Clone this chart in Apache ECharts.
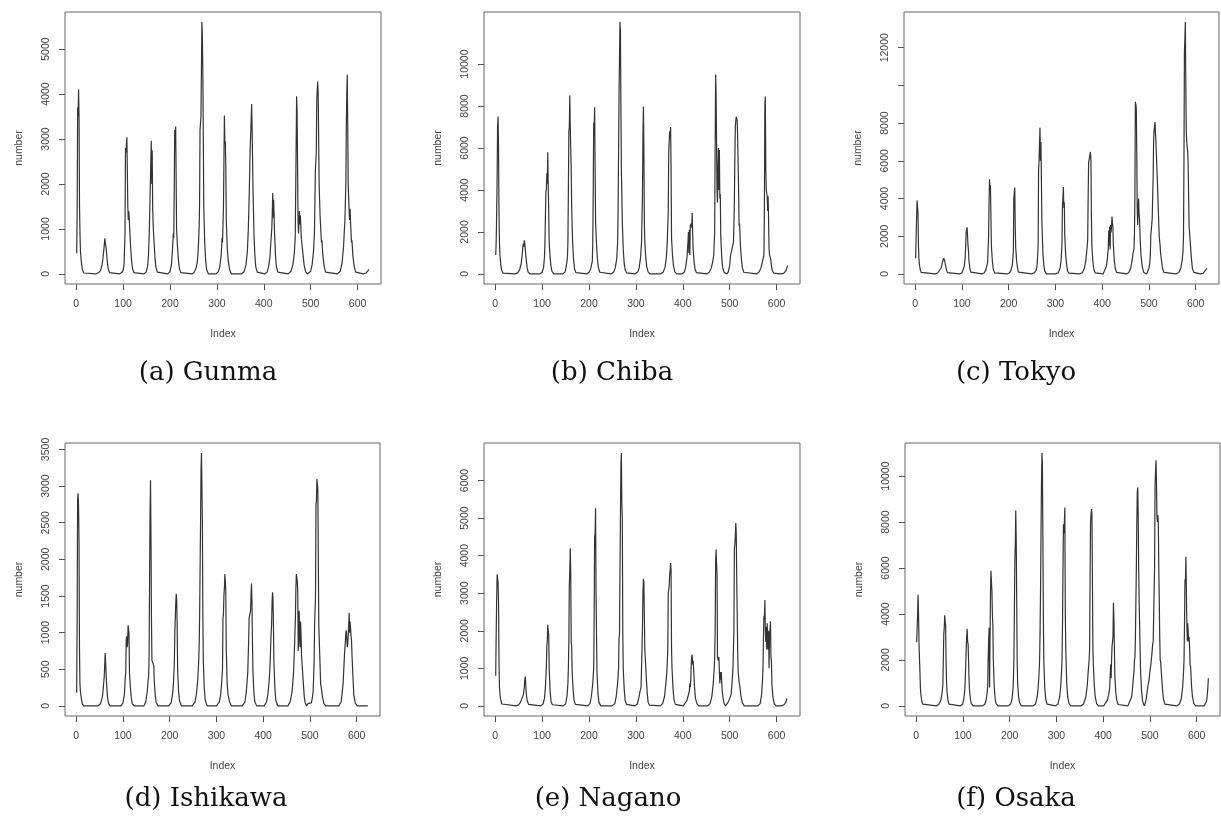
<!DOCTYPE html>
<html>
<head>
<meta charset="utf-8">
<script src="https://cdn.jsdelivr.net/npm/echarts@6/dist/echarts.min.js"></script>
<style>
html,body{margin:0;padding:0;background:#fff;}
#chart{width:1221px;height:817px;}
</style>
</head>
<body>
<div id="chart"></div>
<script>
// ---- data: [Index, number] pairs ----
const gunma = [[1,460],[2,1400],[3,3700],[4,3500],[5,4100],[6,3500],[7,1500],[8,900],[9,500],[11,250],[13,100],[16,20],[20,0],
[42,0],[48,30],[52,80],[55,200],[57,350],[59,550],[61,790],[62,700],[63,720],[64,550],[66,300],[68,120],[71,30],[75,0],
[92,0],[97,30],[100,80],[102,220],[104,900],[105,2800],[106,2700],[108,3040],[109,2300],[110,1500],[111,1200],[112,1400],[113,1250],[114,1000],[116,600],[118,300],[120,120],[123,30],[127,0],
[144,0],[149,40],[152,150],[154,400],[156,1000],[158,2000],[160,2960],[161,2000],[162,2750],[163,1500],[164,1100],[166,700],[168,350],[170,150],[173,40],[177,0],
[195,0],[200,50],[203,200],[205,500],[206,700],[207,900],[208,800],[209,1900],[210,3200],[211,3000],[212,3280],[213,2200],[214,1000],[216,600],[218,300],[220,120],[223,30],[227,0],
[247,0],[252,40],[256,150],[258,250],[260,500],[262,1000],[263,1500],[264,3200],[266,3500],[268,5600],[269,5300],[270,4500],[271,3000],[272,1500],[274,700],[276,300],[278,100],[282,0],
[298,0],[303,50],[306,150],[309,400],[311,800],[312,700],[314,1500],[316,3520],[317,2900],[318,2950],[319,2400],[320,1200],[322,600],[324,300],[327,100],[331,0],
[352,0],[358,50],[362,200],[365,500],[367,1000],[369,1800],[371,2800],[373,3400],[374,3780],[375,3300],[377,1900],[379,900],[381,400],[383,150],[386,40],[390,0],
[402,0],[407,40],[410,150],[413,350],[415,700],[417,1000],[418,1300],[419,1800],[420,1250],[421,1650],[423,900],[425,400],[427,150],[430,40],[434,0],
[452,0],[458,60],[462,200],[465,450],[467,800],[468,1800],[470,3950],[471,3600],[472,2400],[473,1200],[474,900],[476,1400],[477,1100],[478,1300],[480,800],[481,800],[483,500],[486,200],[489,50],[493,0],
[496,0],[500,60],[503,200],[506,500],[508,900],[510,2300],[512,2700],[513,3900],[515,4280],[516,4000],[518,2000],[520,1300],[521,1100],[523,700],[524,750],[526,400],[529,150],[532,40],[536,0],
[557,0],[563,60],[567,250],[570,600],[573,1200],[575,2000],[576,3300],[577,4000],[578,4430],[579,3300],[580,2000],[582,1400],[583,1200],[584,1450],[585,1150],[587,700],[588,750],[590,400],[593,150],[596,40],[600,0],
[612,0],[618,20],[622,70],[624,100]];

const chiba = [[1,900],[2,1500],[3,2800],[4,4500],[5,7000],[6,7500],[7,6100],[8,3000],[9,1500],[10,900],[12,400],[14,150],[17,40],[21,0],
[42,0],[48,50],[52,200],[55,450],[57,800],[59,1300],[60,1450],[61,1300],[62,1600],[63,1450],[64,1200],[66,700],[68,300],[70,100],[74,0],
[95,0],[100,80],[103,300],[105,800],[106,1500],[108,3900],[109,4000],[110,4800],[111,4300],[112,5800],[113,4300],[114,3000],[115,1500],[117,800],[119,350],[121,120],[125,0],
[144,0],[149,100],[151,300],[153,600],[154,800],[155,1500],[156,4000],[157,6800],[158,7000],[159,8500],[160,7000],[161,7000],[162,5000],[163,3200],[165,1500],[167,700],[169,250],[172,60],[176,0],
[195,0],[200,80],[203,200],[205,400],[207,600],[208,1500],[209,4000],[210,7200],[211,7000],[212,7940],[213,5000],[214,2500],[216,1400],[218,700],[220,300],[223,80],[227,0],
[247,0],[253,100],[256,300],[259,700],[261,1500],[262,3000],[264,8500],[266,12000],[267,11600],[268,8000],[269,5000],[271,2500],[273,1200],[275,500],[277,200],[280,50],[284,0],
[298,0],[304,100],[307,300],[310,800],[312,1500],[314,3800],[315,6500],[316,7980],[317,6000],[318,2500],[319,1500],[321,800],[323,350],[326,100],[330,0],
[352,0],[358,80],[362,300],[365,800],[367,1600],[369,3000],[370,5800],[372,6800],[373,6500],[374,7000],[375,5000],[376,1700],[378,900],[380,400],[383,100],[387,0],
[398,0],[403,80],[406,300],[409,800],[411,1500],[412,2000],[413,1000],[414,2100],[415,900],[416,2300],[417,2350],[418,2400],[419,2200],[420,2900],[421,2000],[422,1200],[424,600],[426,250],[429,60],[433,0],
[452,0],[457,100],[461,300],[464,600],[466,900],[468,2000],[469,6000],[470,9500],[471,8600],[472,6300],[473,4000],[474,3400],[475,5000],[476,6000],[477,4000],[478,5900],[479,3600],[480,3800],[481,1800],[483,800],[485,300],[488,80],[491,0],
[494,0],[497,100],[500,400],[502,900],[504,1100],[506,1300],[508,1500],[509,2300],[510,3500],[511,5500],[512,7000],[513,7300],[514,7500],[515,7550],[516,7300],[517,6500],[519,4000],[520,2300],[521,2400],[522,1900],[523,1300],[525,700],[527,300],[530,80],[534,0],
[557,0],[563,100],[567,300],[570,600],[573,900],[574,3000],[575,8000],[576,8450],[577,5000],[578,4000],[580,3700],[581,3000],[582,3700],[583,2500],[584,1200],[585,900],[587,750],[589,400],[591,150],[594,40],[598,0],
[608,0],[615,30],[620,150],[622,300],[624,400]];

const tokyo = [[1,830],[2,2000],[3,3000],[4,3900],[5,3800],[6,3200],[7,1500],[8,800],[9,500],[11,200],[13,80],[17,0],
[42,0],[48,50],[52,150],[55,300],[57,450],[59,700],[61,830],[63,700],[65,450],[67,200],[69,70],[73,0],
[95,0],[100,50],[103,150],[105,400],[107,900],[108,1500],[109,2200],[110,2300],[111,2470],[112,2000],[113,1500],[114,1200],[115,700],[117,300],[119,100],[123,0],
[143,0],[148,60],[151,200],[153,400],[155,600],[156,700],[157,2000],[158,3800],[159,5020],[160,4500],[161,4700],[162,3000],[163,1500],[165,700],[167,250],[170,60],[174,0],
[197,0],[202,60],[205,200],[208,500],[210,1200],[211,4000],[212,4300],[213,4580],[214,2500],[215,1400],[217,700],[219,300],[221,100],[225,0],
[249,0],[255,60],[259,200],[261,500],[263,1500],[264,5600],[265,6000],[266,7000],[267,7760],[268,6000],[269,7000],[270,5000],[271,2800],[273,1200],[275,500],[277,150],[281,0],
[300,0],[306,60],[310,300],[312,700],[314,1500],[315,3700],[316,4000],[317,4610],[318,3500],[319,3800],[320,2000],[322,1000],[324,500],[326,150],[329,40],[333,0],
[352,0],[358,80],[362,300],[365,700],[367,1200],[369,1800],[370,4000],[371,5900],[373,6200],[375,6470],[376,6000],[377,3000],[378,1500],[380,700],[382,250],[385,60],[389,0],
[402,0],[406,100],[409,400],[411,800],[413,1300],[414,2300],[415,1500],[416,2500],[417,1300],[418,2600],[419,2200],[420,2500],[421,3040],[422,2700],[423,2500],[424,1500],[426,700],[428,300],[431,80],[435,0],
[452,0],[457,80],[461,300],[464,700],[466,1100],[468,1300],[469,2000],[470,4000],[471,9130],[472,9000],[473,8800],[474,6500],[475,3500],[476,2600],[477,3500],[478,4000],[479,3200],[480,2900],[481,2000],[483,1000],[486,350],[489,80],[492,0],
[495,0],[498,80],[500,300],[502,600],[503,1000],[504,2000],[505,2100],[506,2600],[507,2900],[508,4000],[509,5000],[510,7000],[511,7600],[512,7800],[513,8060],[514,7500],[515,7000],[516,6900],[518,5000],[520,3500],[522,2000],[523,1900],[524,1500],[525,1100],[527,700],[529,300],[532,80],[536,0],
[558,0],[564,80],[568,300],[571,700],[573,1200],[574,2000],[575,6000],[576,11800],[577,12500],[578,13360],[579,10000],[580,7500],[581,7000],[582,6700],[583,6500],[584,5800],[585,4000],[586,2500],[587,2200],[588,2300],[589,1500],[591,800],[593,300],[596,80],[600,0],
[610,0],[616,30],[620,100],[624,300]];

const ishikawa = [[1,180],[2,1150],[3,2800],[4,2900],[5,2750],[6,2250],[7,800],[8,300],[9,200],[11,100],[13,30],[16,0],
[47,0],[52,30],[56,120],[58,250],[60,400],[61,550],[62,720],[63,700],[64,450],[65,300],[67,120],[69,40],[72,0],
[96,0],[100,40],[103,150],[104,250],[105,400],[106,450],[107,900],[108,950],[109,800],[110,850],[111,1100],[112,1095],[113,1000],[114,450],[116,250],[118,100],[120,30],[124,0],
[145,0],[149,60],[152,200],[154,350],[155,400],[156,700],[157,1700],[158,2650],[159,3080],[160,2300],[161,1200],[162,620],[164,600],[166,550],[167,350],[169,150],[171,50],[175,0],
[198,0],[203,40],[206,150],[208,300],[210,600],[211,1000],[212,1000],[213,1400],[214,1530],[215,1450],[216,1100],[217,500],[219,200],[221,70],[225,0],
[248,0],[254,50],[257,150],[260,350],[262,600],[263,800],[264,1200],[266,2450],[267,3200],[268,3450],[269,3440],[270,2500],[271,1200],[272,600],[274,250],[276,80],[280,0],
[300,0],[306,50],[309,150],[311,300],[313,500],[314,1200],[315,1250],[316,1500],[317,1600],[318,1800],[319,1700],[320,1600],[321,800],[323,300],[325,150],[328,60],[332,0],
[355,0],[361,50],[364,200],[367,450],[369,900],[370,1200],[372,1200],[373,1300],[374,1500],[375,1670],[376,1450],[377,900],[378,500],[380,200],[382,60],[386,0],
[402,0],[407,50],[410,150],[413,350],[415,600],[417,1000],[418,1100],[419,1400],[420,1550],[421,1480],[422,1100],[423,600],[425,250],[427,80],[431,0],
[453,0],[458,60],[462,200],[465,450],[467,800],[469,1200],[470,1600],[471,1800],[472,1810],[473,1700],[474,1550],[475,750],[476,900],[477,1300],[478,1000],[479,800],[480,1150],[481,1000],[482,700],[484,500],[486,300],[488,120],[490,40],[493,0],[496,30],[499,50],[503,40],[505,100],
[507,200],[509,600],[510,1100],[512,1500],[513,2750],[514,2800],[515,3100],[516,3120],[517,2950],[518,2000],[519,1100],[520,1100],[521,700],[523,300],[525,220],[527,120],[530,30],[534,0],
[562,0],[567,60],[571,300],[574,700],[576,900],[577,1000],[578,1030],[579,900],[580,800],[581,850],[582,950],[583,1100],[584,1270],[585,1000],[586,1150],[587,1050],[588,950],[589,900],[590,700],[592,400],[594,150],[597,40],[601,0],
[624,0]];

const nagano = [[1,800],[2,1900],[3,2800],[4,3500],[5,3400],[6,3300],[7,2800],[8,1200],[9,500],[11,200],[14,50],[18,0],
[45,0],[50,30],[54,100],[57,200],[60,300],[62,500],[63,700],[64,780],[65,600],[66,350],[68,150],[71,40],[75,0],
[97,0],[102,50],[105,200],[107,500],[109,1000],[110,1600],[111,1700],[112,2160],[113,2000],[114,1900],[115,1000],[117,400],[119,120],[122,30],[126,0],
[145,0],[150,50],[153,250],[155,600],[156,1000],[157,1700],[158,3200],[159,3600],[160,4200],[161,3600],[162,1700],[163,1600],[164,900],[166,450],[168,150],[171,40],[175,0],
[197,0],[202,60],[205,250],[208,600],[210,1000],[211,2500],[212,4500],[213,4600],[214,5260],[215,3000],[216,1900],[217,900],[219,350],[221,100],[225,0],
[249,0],[255,60],[258,250],[261,600],[263,1000],[264,1800],[265,1900],[266,3500],[267,5000],[268,6400],[269,6730],[270,5400],[271,5000],[272,2000],[273,1000],[275,450],[277,150],[280,40],[284,0],
[298,0],[303,50],[306,200],[309,400],[311,500],[312,500],[313,1500],[314,2100],[315,3000],[316,3380],[317,3300],[318,3250],[319,1500],[320,1500],[322,800],[324,350],[326,100],[329,20],[332,0],
[352,0],[357,60],[361,250],[364,600],[366,900],[368,1500],[369,3000],[370,3000],[371,3200],[372,3500],[373,3600],[374,3800],[375,3600],[376,1500],[377,1000],[379,500],[381,180],[384,40],[388,0],
[401,0],[405,50],[409,150],[412,300],[414,400],[415,600],[416,500],[417,700],[418,1100],[419,1300],[420,1360],[421,1100],[422,1200],[423,1000],[424,1000],[425,500],[427,200],[430,60],[434,0],
[453,0],[458,60],[462,250],[465,600],[467,1000],[468,1300],[469,2000],[470,3800],[471,4160],[472,3800],[473,3500],[474,1300],[475,1300],[476,1200],[477,1300],[478,900],[479,600],[480,900],[481,700],[482,900],[484,400],[486,200],[488,70],[491,0],[494,20],[497,100],[499,150],[501,150],
[503,300],[505,600],[507,1000],[509,2000],[510,4200],[511,4300],[512,4500],[513,4870],[514,4600],[515,3400],[516,3400],[517,1500],[518,900],[519,800],[520,650],[522,500],[524,250],[527,80],[531,0],
[560,0],[565,60],[568,300],[570,700],[571,1000],[572,1800],[573,2400],[574,2300],[575,2820],[576,2000],[577,1700],[578,2100],[579,1500],[580,2200],[581,1800],[582,1500],[583,2000],[584,1000],[585,1900],[586,2000],[587,2250],[588,1300],[589,1200],[590,600],[592,250],[595,60],[599,0],
[610,0],[616,30],[620,100],[622,200]];

const osaka = [[1,2770],[2,3400],[3,4000],[4,4850],[5,4000],[6,2700],[7,2700],[8,1500],[9,800],[10,500],[12,200],[14,80],[18,0],
[43,0],[48,60],[52,200],[55,500],[57,900],[58,2000],[59,3100],[60,3400],[61,3940],[62,3700],[63,3500],[64,1800],[65,1000],[66,600],[68,250],[70,80],[74,0],
[94,0],[99,60],[102,300],[104,700],[105,1200],[106,1800],[107,2500],[108,3000],[109,3350],[110,2800],[111,2700],[112,2000],[113,1200],[114,700],[116,300],[118,100],[122,0],
[142,0],[147,80],[150,300],[152,600],[153,900],[154,2100],[155,2800],[156,3400],[157,800],[158,3000],[159,5000],[160,5880],[161,5400],[162,5000],[163,4000],[164,3500],[165,2000],[167,800],[169,300],[171,100],[175,0],
[197,0],[202,80],[205,300],[207,700],[208,1200],[209,2000],[210,4000],[211,6300],[212,7000],[213,8500],[214,7200],[215,4700],[216,2000],[217,1000],[219,400],[221,150],[225,0],
[250,0],[255,80],[259,400],[261,800],[263,1500],[264,2000],[265,3200],[266,5000],[267,7400],[268,9600],[269,11000],[270,10500],[271,7400],[272,4000],[273,2000],[275,800],[277,300],[280,80],[284,0],
[298,0],[303,80],[307,400],[309,800],[311,1500],[312,2000],[313,3500],[314,5800],[315,7900],[316,7500],[317,8000],[318,8630],[319,4000],[320,2500],[322,1000],[324,400],[327,100],[331,0],
[352,0],[358,80],[363,400],[366,900],[368,1500],[370,2000],[371,2500],[372,5500],[373,8000],[374,8300],[375,8570],[376,8300],[377,5500],[378,2500],[379,1800],[381,900],[383,400],[386,100],[390,0],
[401,0],[405,60],[409,250],[412,500],[414,800],[415,1300],[416,1800],[417,1200],[418,2000],[419,2600],[420,2600],[421,3000],[422,4490],[423,3800],[424,2500],[425,1300],[427,600],[429,250],[432,60],[436,0],
[453,0],[457,80],[461,400],[463,800],[465,1300],[466,1500],[467,2000],[468,2100],[469,3000],[470,4500],[471,6000],[472,8000],[473,9300],[474,9500],[475,8300],[476,6000],[477,4600],[478,4600],[479,2500],[480,1500],[482,700],[484,250],[486,100],[488,0],
[490,100],[492,300],[494,600],[496,900],[498,1100],[500,1500],[502,1800],[504,2200],[506,2700],[507,2800],[508,3800],[509,5000],[510,6000],[511,9500],[512,10200],[513,10690],[514,9800],[515,8300],[516,8000],[517,8300],[518,8000],[519,6000],[520,4700],[521,3000],[522,2000],[523,1900],[525,1300],[527,700],[529,300],[532,80],[536,0],
[558,0],[563,80],[567,300],[570,800],[572,1500],[573,2000],[574,3500],[575,5500],[576,5400],[577,6490],[578,5000],[579,3600],[580,2800],[581,3600],[582,3200],[583,2800],[584,3000],[585,2500],[586,1800],[587,1700],[589,900],[591,400],[594,100],[598,0],
[616,0],[619,60],[621,200],[622,300],[624,800],[625,1200]];

// ---- tick labels ----
const xTicks = [0, 100, 200, 300, 400, 500, 600];
const yTicksGunma = [0, 1000, 2000, 3000, 4000, 5000];
const yTicksChiba = [0, 2000, 4000, 6000, 8000, 10000];
const yTicksTokyo = [0, 2000, 4000, 6000, 8000, 10000, 12000];
const yLabelsTokyo = [0, 2000, 4000, 6000, 8000, 12000];
const yTicksIshikawa = [0, 500, 1000, 1500, 2000, 2500, 3000, 3500];
const yTicksNagano = [0, 1000, 2000, 3000, 4000, 5000, 6000];
const yTicksOsaka = [0, 2000, 4000, 6000, 8000, 10000];
const captions = ['(a) Gunma', '(b) Chiba', '(c) Tokyo', '(d) Ishikawa', '(e) Nagano', '(f) Osaka'];
const xName = 'Index';
const yName = 'number';

const panels = [
  {data: gunma, yTicks: yTicksGunma, yLabels: yTicksGunma},
  {data: chiba, yTicks: yTicksChiba, yLabels: yTicksChiba},
  {data: tokyo, yTicks: yTicksTokyo, yLabels: yLabelsTokyo},
  {data: ishikawa, yTicks: yTicksIshikawa, yLabels: yTicksIshikawa},
  {data: nagano, yTicks: yTicksNagano, yLabels: yTicksNagano},
  {data: osaka, yTicks: yTicksOsaka, yLabels: yTicksOsaka}
];

// ---- layout (pixel boxes of the six plot regions) ----
const boxes = [
  {left: 65, top: 12, width: 316, height: 272},
  {left: 484, top: 12, width: 316, height: 272},
  {left: 904, top: 12, width: 315, height: 272},
  {left: 65, top: 443, width: 315, height: 273},
  {left: 484, top: 443, width: 316, height: 273},
  {left: 905, top: 443, width: 315, height: 273}
];
const captionPos = [[208, 373], [612, 373], [1016, 373], [206, 799], [608, 799], [1016, 799]];

const N = 625;
const xMin = 1 - 0.04 * (N - 1), xMax = N + 0.04 * (N - 1);
const axisColor = '#555';
const textColor = '#444';
const sans = 'Liberation Sans, Arial, sans-serif';

const grid = [], xAxis = [], yAxis = [], series = [], graphic = [];
panels.forEach((p, i) => {
  const b = boxes[i];
  grid.push({left: b.left, top: b.top, width: b.width, height: b.height,
    show: true, borderColor: '#666', borderWidth: 1, backgroundColor: 'transparent', containLabel: false});
  xAxis.push({type: 'value', gridIndex: i, min: xMin, max: xMax,
    axisLine: {show: false, onZero: false},
    splitLine: {show: false},
    axisTick: {show: true, length: 6, customValues: xTicks, lineStyle: {color: axisColor, width: 1}},
    axisLabel: {customValues: xTicks, fontSize: 10.5, color: textColor, margin: 15, fontFamily: sans,
      formatter: v => String(v)},
    name: xName, nameLocation: 'middle', nameGap: 45,
    nameTextStyle: {fontSize: 10.5, color: textColor, fontFamily: sans}});
  const ymax = Math.max(...p.data.map(d => d[1]));
  yAxis.push({type: 'value', gridIndex: i, min: -0.04 * ymax, max: 1.04 * ymax,
    axisLine: {show: false, onZero: false},
    splitLine: {show: false},
    axisTick: {show: true, length: 6, customValues: p.yTicks, lineStyle: {color: axisColor, width: 1}},
    axisLabel: {customValues: p.yLabels, rotate: 90, fontSize: 10.5, color: textColor, margin: 13, fontFamily: sans,
      formatter: v => String(v)},
    name: yName, nameLocation: 'middle', nameGap: 40,
    nameTextStyle: {fontSize: 10.5, color: textColor, fontFamily: sans}});
  series.push({type: 'line', xAxisIndex: i, yAxisIndex: i, data: p.data,
    showSymbol: false, symbol: 'none', smooth: false,
    lineStyle: {color: '#333', width: 1.2}, emphasis: {disabled: true}});
  graphic.push({type: 'text', x: captionPos[i][0], y: captionPos[i][1],
    style: {text: captions[i], fill: '#111', font: '26px "DejaVu Serif", serif',
      textAlign: 'center', textVerticalAlign: 'middle'}});
});

const chart = echarts.init(document.getElementById('chart'), null, {renderer: 'canvas'});
chart.setOption({animation: false, backgroundColor: '#fff', grid, xAxis, yAxis, series, graphic});
</script>
</body>
</html>
